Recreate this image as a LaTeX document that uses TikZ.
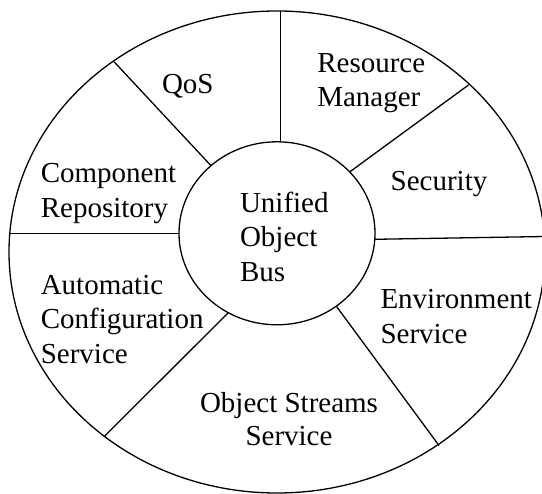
\documentclass[tikz,border=0pt]{standalone}
\usepackage{fontspec}
\setmainfont{Liberation Serif}
\begin{document}
\begin{tikzpicture}[x=1pt,y=-1pt,
  ln/.style={line width=1.3pt,black},
  lbl/.style={anchor=base west,inner sep=0pt,outer sep=0pt,font=\fontsize{29}{34}\selectfont},
  lblc/.style={anchor=base,inner sep=0pt,outer sep=0pt,font=\fontsize{29}{34}\selectfont}]
\useasboundingbox (0,0) rectangle (542,494);
\begin{scope}
\clip (0,0) rectangle (542,494);
% outer ellipse
\draw[ln] (277,252) ellipse [x radius=268pt, y radius=241pt];
% inner ellipse
\draw[ln] (277,233.3) ellipse [x radius=98pt, y radius=91.5pt];
% spoke end points
\coordinate (o1) at (280.6,11);   \coordinate (i1) at (280.6,141.8);
\coordinate (o2) at (114,61.7);   \coordinate (i2) at (211,165.7);
\coordinate (o3) at (468.5,85);   \coordinate (i3) at (350,171.7);
\coordinate (o4) at (9.5,233.3);  \coordinate (i4) at (179,233.3);
\coordinate (o5) at (545,236.5);  \coordinate (i5) at (375,239.3);
\coordinate (o6) at (104,436.7);  \coordinate (i6) at (228.3,312.7);
\coordinate (o7) at (439,445.5);  \coordinate (i7) at (336.7,306.7);
\foreach \k in {1,...,7}{\draw[ln] (i\k) -- (o\k);}
\end{scope}
% labels
\node[lbl] (qos) at (162,93.3) {QoS};
\node[lbl] (res1) at (317.3,72.7) {Resource};
\node[lbl] (res2) at (317.3,106.5) {Manager};
\node[lbl] (comp1) at (40.8,182.7) {Component};
\node[lbl] (comp2) at (40.8,217.3) {Repository};
\node[lbl] (sec) at (390.7,190.5) {Security};
\node[lbl] (uob1) at (240,212.5) {Unified};
\node[lbl] (uob2) at (240,246.5) {Object};
\node[lbl] (uob3) at (240,282) {Bus};
\node[lbl] (auto1) at (40.8,295) {Automatic};
\node[lbl] (auto2) at (40.8,329) {Configuration};
\node[lbl] (auto3) at (40.8,363.5) {Service};
\node[lbl] (env1) at (380.5,308.3) {Environment};
\node[lbl] (env2) at (380.5,343.3) {Service};
\node[lblc] (os1) at (289,412.7) {Object Streams};
\node[lblc] (os2) at (289,446) {Service};
\end{tikzpicture}
\end{document}
